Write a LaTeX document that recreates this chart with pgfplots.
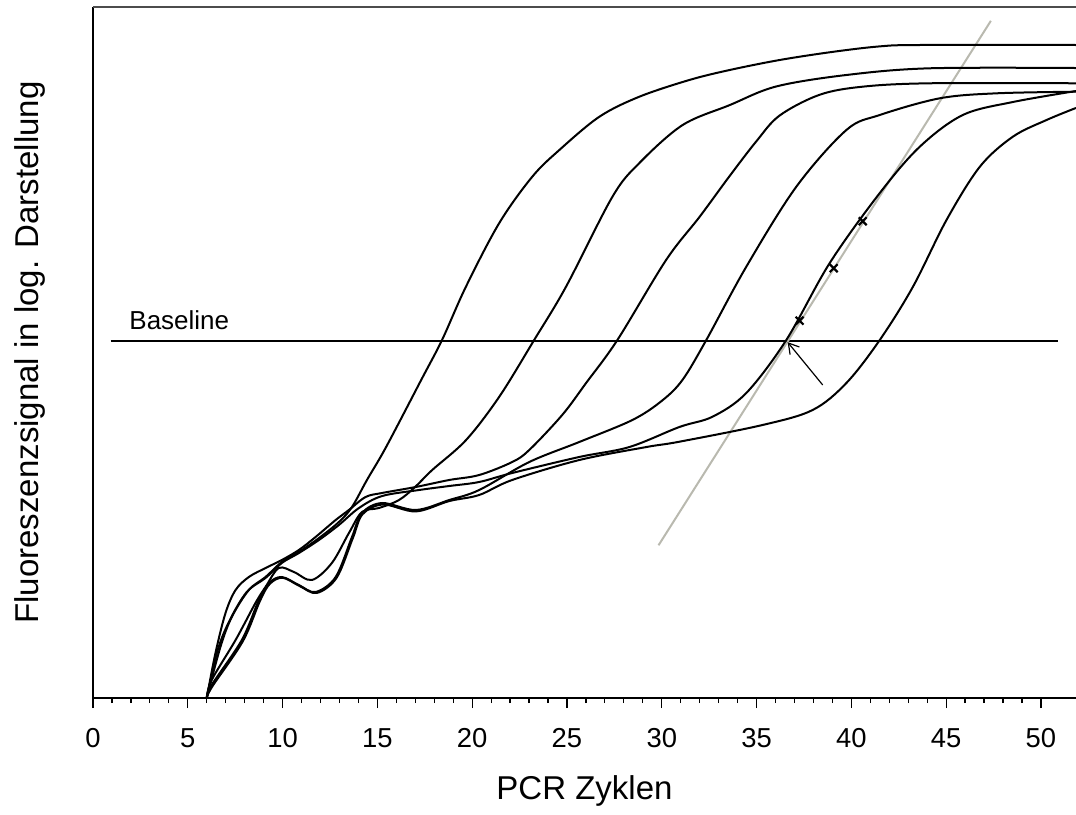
\documentclass[border=0pt]{standalone}
\usepackage{fontspec}
\setmainfont{Liberation Sans}
\usepackage{pgfplots}
\pgfplotsset{compat=1.18}
\usetikzlibrary{arrows.meta}
\definecolor{greyline}{RGB}{185,185,175}
\begin{document}
\begin{tikzpicture}
\path[use as bounding box] (0,0) rectangle (538pt,407pt);
\begin{axis}[
 at={(46.5pt,58pt)}, anchor=south west,
 scale only axis, width=491.5pt, height=345.5pt,
 xmin=0, xmax=51.85, ymin=0, ymax=100,
 axis x line*=bottom, axis y line*=left,
 xtick={0,5,...,50}, minor x tick num=4,
 ytick=\empty,
 tick align=outside,
 major tick length=5pt, minor tick length=2.5pt,
 tick style={black, line width=0.6pt},
 x axis line style={line width=0.7pt},
 y axis line style={line width=1pt},
 xticklabel={\fontsize{13.7}{16}\selectfont\pgfmathprintnumber[assume math mode=true]{\tick}},
 xticklabel style={anchor=base, yshift=-19.5pt},
 xlabel={PCR Zyklen}, ylabel={Fluoreszenzsignal in log. Darstellung},
 label style={font=\fontsize{16.5}{19}\selectfont},
 xlabel style={at={(axis description cs:0.5,-0.1476)}, anchor=base},
 ylabel style={at={(axis description cs:-0.064,0.5)}, anchor=center},
 clip=false,
]
\draw[line width=1pt, black!70] (rel axis cs:0,1) -- (rel axis cs:1,1);
% Baseline
\addplot[black, line width=0.65pt] coordinates {(0.93,51.66) (50.9,51.66)};
\node[anchor=base west, font=\fontsize{13}{15}\selectfont] at (axis cs:1.55,53.4) {Baseline};
% grey tangent line
\addplot[greyline, line width=1pt] coordinates {(29.83,22.1) (47.36,98.0)};
% curve A
\addplot[black, line width=1pt, smooth, tension=0.55] coordinates {
(6,0) (6.72,7.38) (7.32,11.72) (8.22,15.63) (9.10,17.51) (9.96,19.68) (10.86,21.13) (11.92,23.15) (12.97,25.47) (13.66,27.64) (14.45,31.55) (15.46,36.32) (17.31,46.02) (18.41,51.81) (19.67,59.52) (21.43,68.74) (23.17,75.44) (24.60,79.31) (26.71,84.12) (28.82,87.02) (31.46,89.44) (33.58,90.88) (36.22,92.33) (39.00,93.50) (41.50,94.30) (43.61,94.50) (51.85,94.50)};
% curve B
\addplot[black, line width=1pt, smooth, tension=0.55] coordinates {
(6,0) (6.26,2.60) (7.52,8.39) (8.57,13.75) (9.10,16.06) (9.80,18.81) (10.60,18.23) (11.55,17.08) (12.60,19.54) (13.50,23.88) (14.19,26.92) (15.09,27.50) (16.14,28.65) (16.99,30.54) (17.89,32.99) (19.68,37.34) (21.43,43.60) (23.27,51.81) (24.95,59.52) (27.40,72.55) (28.82,77.42) (31.09,82.90) (33.58,85.80) (36.04,88.50) (39.74,90.16) (44.14,91.13) (51.85,91.17)};
% curve C
\addplot[black, line width=1pt, smooth, tension=0.55] coordinates {
(6,0) (6.46,6.51) (6.99,12.30) (7.52,15.63) (8.22,17.51) (9.10,18.81) (9.96,19.97) (10.86,21.42) (11.74,23.30) (12.80,25.76) (13.50,27.21) (14.38,29.09) (15.25,29.67) (17.03,30.54) (18.79,31.55) (20.37,32.27) (22.11,34.15) (23.01,35.89) (24.75,40.96) (26.01,45.59) (27.66,51.81) (30.23,63.39) (32.00,69.65) (33.58,75.54) (35.00,80.60) (36.22,84.30) (38.33,87.30) (40.60,88.47) (44.14,88.96) (51.85,88.96)};
% curve D
\addplot[black, line width=1pt, smooth, tension=0.55] coordinates {
(6,0) (6.26,1.88) (7.85,8.39) (8.75,14.18) (9.28,16.64) (9.96,17.51) (10.86,16.35) (11.74,15.34) (12.80,17.51) (13.66,23.30) (14.19,26.77) (15.25,28.22) (17.03,27.21) (18.79,28.65) (20.37,30.10) (23.01,34.15) (25.65,37.05) (28.45,40.23) (30.00,43.00) (31.09,46.02) (32.35,51.81) (34.46,62.42) (37.10,74.00) (39.74,82.20) (41.50,84.37) (44.67,86.79) (47.67,87.51) (51.85,87.74)};
% curve E
\addplot[black, line width=1pt, smooth, tension=0.55] coordinates {
(6,0) (6.58,6.95) (7.22,11.29) (8.11,15.34) (9.10,17.37) (9.96,19.54) (10.86,20.98) (11.92,22.87) (12.97,25.04) (14.03,27.50) (15.25,29.23) (17.20,30.10) (18.79,30.68) (20.37,31.26) (22.11,32.56) (25.65,34.88) (28.29,36.32) (30.93,39.22) (32.68,40.71) (34.46,44.14) (36.57,51.81) (38.86,62.95) (41.50,73.08) (43.61,79.78) (45.88,84.37) (48.52,86.25) (51.85,87.84)};
% curve F
\addplot[black, line width=1pt, smooth, tension=0.55] coordinates {
(6,0) (6.30,1.70) (7.90,8.20) (8.80,14.00) (9.32,16.50) (10.00,17.40) (10.90,16.20) (11.80,15.20) (12.85,17.40) (13.70,23.10) (14.22,26.60) (15.30,28.00) (17.03,27.00) (18.79,28.50) (20.37,29.38) (22.11,31.55) (25.65,34.44) (29.19,36.32) (30.93,37.09) (35.32,39.51) (37.96,41.68) (39.74,45.59) (41.50,51.81) (43.25,59.52) (45.02,69.18) (46.78,76.89) (48.52,81.23) (50.30,83.65) (51.85,85.39)};
% Ct marks
\addplot[only marks, mark=x, mark size=2.8pt, mark options={line width=1.1pt, black}] coordinates {(37.27,54.6) (39.07,62.2) (40.60,69.0)};
% arrow
\addplot[black, line width=0.6pt, -{Straight Barb[length=5pt,width=6pt]}] coordinates {(38.49,45.3) (36.64,51.5)};
\end{axis}
\end{tikzpicture}
\end{document}
